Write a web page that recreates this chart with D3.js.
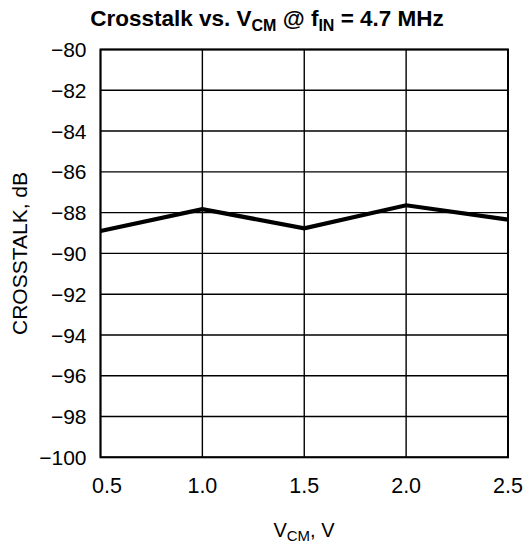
<!DOCTYPE html>
<html><head><meta charset="utf-8">
<script src="https://cdn.jsdelivr.net/npm/d3@7"></script>
<style>body{margin:0;background:#fff}svg{display:block}</style>
</head><body>
<svg id="c" width="526" height="548"></svg>
<script>
const vcm = [0.5, 1.0, 1.5, 2.0, 2.5];
const crosstalk = [-88.9, -87.83, -88.77, -87.64, -88.34];
const xTicks = [0.5, 1.0, 1.5, 2.0, 2.5];
const yTicks = [-80, -82, -84, -86, -88, -90, -92, -94, -96, -98, -100];

const svg = d3.select('#c');
const L = 100.5, R = 508, T = 49.5, B = 457.3;
const x = d3.scaleLinear().domain([0.5, 2.5]).range([L, R]);
const y = d3.scaleLinear().domain([-100, -80]).range([B, T]);
const font = "'Liberation Sans', Arial, sans-serif";

// grid
svg.append('g').selectAll('line').data(yTicks).join('line')
  .attr('x1', L).attr('x2', R).attr('y1', d => y(d)).attr('y2', d => y(d))
  .attr('stroke', '#000').attr('stroke-width', 1.4);
svg.append('g').selectAll('line').data(xTicks).join('line')
  .attr('y1', T).attr('y2', B).attr('x1', d => x(d)).attr('x2', d => x(d))
  .attr('stroke', '#000').attr('stroke-width', 1.4);
svg.append('rect').attr('x', L).attr('y', T).attr('width', R - L).attr('height', B - T)
  .attr('fill', 'none').attr('stroke', '#000').attr('stroke-width', 2);

// y tick labels
svg.append('g').selectAll('text').data(yTicks).join('text')
  .attr('x', 86.5).attr('y', d => y(d)).attr('dy', '0.36em')
  .attr('text-anchor', 'end').attr('font-family', font).attr('font-size', 21)
  .text(d => String(d).replace('-', '\u2212'));
// x tick labels
svg.append('g').selectAll('text').data(xTicks).join('text')
  .attr('x', (d, i) => x(d) + (i === 0 ? 6.5 : 0)).attr('y', 493)
  .attr('text-anchor', 'middle').attr('font-family', font).attr('font-size', 21.5)
  .text(d => d.toFixed(1));

// line
const line = d3.line().x((d, i) => x(vcm[i])).y(d => y(d));
svg.append('path').datum(crosstalk).attr('d', line)
  .attr('fill', 'none').attr('stroke', '#000').attr('stroke-width', 4.2)
  .attr('stroke-linejoin', 'miter');

// title
const t = svg.append('text').attr('x', 267).attr('y', 26).attr('text-anchor', 'middle')
  .attr('font-family', font).attr('font-weight', 'bold').attr('font-size', 22.5);
t.append('tspan').text('Crosstalk vs. V');
t.append('tspan').attr('font-size', 16).attr('dy', 5).text('CM');
t.append('tspan').attr('dy', -5).text(' @ f');
t.append('tspan').attr('font-size', 16).attr('dy', 5).text('IN');
t.append('tspan').attr('dy', -5).text(' = 4.7 MHz');

// x axis title
const xt = svg.append('text').attr('x', 304).attr('y', 537).attr('text-anchor', 'middle')
  .attr('font-family', font).attr('font-size', 20);
xt.append('tspan').text('V');
xt.append('tspan').attr('font-size', 15).attr('dy', 4).text('CM');
xt.append('tspan').attr('dy', -4).text(', V');

// y axis title
svg.append('text').attr('transform', 'translate(27,253.5) rotate(-90)')
  .attr('text-anchor', 'middle').attr('font-family', font).attr('font-size', 20)
  .attr('textLength', 163).attr('lengthAdjust', 'spacingAndGlyphs')
  .text('CROSSTALK, dB');
</script>
</body></html>
